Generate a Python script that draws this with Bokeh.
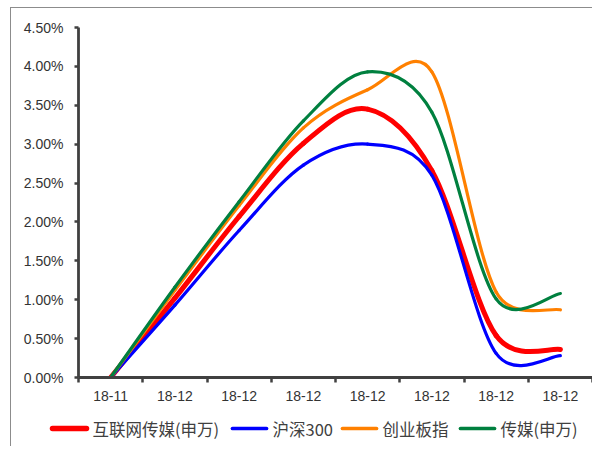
import math
from bokeh.plotting import figure
from bokeh.layouts import column, row
from bokeh.core.properties import value
from bokeh.models import (Range1d, FixedTicker, NumeralTickFormatter, ColumnDataSource)
from bokeh.embed import file_html
from bokeh.resources import INLINE

# ---- data ----
x_labels = ["18-11", "18-12", "18-12", "18-12", "18-12", "18-12", "18-12", "18-12"]
internet_media = [0.0, 0.0102, 0.0207, 0.0301, 0.0345, 0.0266, 0.0054, 0.0036]
hs300 = [0.0, 0.0093, 0.0189, 0.0273, 0.0300, 0.0260, 0.0031, 0.0028]
chinext = [0.0, 0.0112, 0.0221, 0.0321, 0.0370, 0.0393, 0.0110, 0.0087]
media = [0.0, 0.0116, 0.0226, 0.0330, 0.0393, 0.0341, 0.0101, 0.0108]
y_ticks = [0.0, 0.005, 0.01, 0.015, 0.02, 0.025, 0.03, 0.035, 0.04, 0.045]

series = [
    ("互联网传媒(申万)", internet_media, "#FF0000", 5),
    ("沪深300", hs300, "#0000FF", 3.2),
    ("创业板指", chinext, "#FF8000", 3.2),
    ("传媒(申万)", media, "#00803F", 3.2),
]

AX = "#404040"
W, H = 592, 410
LEFT, RIGHT, TOP, BOTTOM = 78, 0, 27, 33
X0, X1, Y0, Y1 = -0.5, 7.5, 0.0, 0.045

p = figure(width=W, height=H, output_backend="svg", toolbar_location=None,
           x_range=Range1d(X0, X1), y_range=Range1d(Y0, Y1),
           min_border_left=LEFT, min_border_right=RIGHT, min_border_top=TOP,
           min_border_bottom=BOTTOM)
p.outline_line_color = None
p.xgrid.visible = False
p.ygrid.visible = False
p.background_fill_color = "white"
p.border_fill_alpha = 0

# pixel scales (for Excel-like smoothing in screen space)
sx = (W - LEFT - RIGHT) / (X1 - X0)
sy = (H - TOP - BOTTOM) / (Y1 - Y0)


def dist(a, b):
    return math.hypot((a[0] - b[0]) * sx, (a[1] - b[1]) * sy)


def smooth(xs, ys):
    n = len(xs)
    P = list(zip(xs, ys))
    d = dict(x0=[], y0=[], x1=[], y1=[], cx0=[], cy0=[], cx1=[], cy1=[])
    for i in range(n - 1):
        pm = P[i - 1] if i > 0 else P[i]
        p0 = P[i]
        p1 = P[i + 1]
        p2 = P[i + 2] if i + 2 < n else P[i + 1]
        seg = dist(p0, p1)
        d02 = dist(pm, p1)
        d13 = dist(p0, p2)
        f0 = 1 / 6.0
        f1 = 1 / 6.0
        if d02 > 0 and d02 * f0 > seg / 2:
            f0 = seg / 2 / d02
        if d13 > 0 and d13 * f1 > seg / 2:
            f1 = seg / 2 / d13
        d["x0"].append(p0[0]); d["y0"].append(p0[1])
        d["x1"].append(p1[0]); d["y1"].append(p1[1])
        d["cx0"].append(p0[0] + (p1[0] - pm[0]) * f0)
        d["cy0"].append(p0[1] + (p1[1] - pm[1]) * f0)
        d["cx1"].append(p1[0] - (p2[0] - p0[0]) * f1)
        d["cy1"].append(p1[1] - (p2[1] - p0[1]) * f1)
    return ColumnDataSource(d)


xs = list(range(len(x_labels)))
for name, vals, color, w in series:
    src = smooth(xs, vals)
    p.bezier(x0="x0", y0="y0", x1="x1", y1="y1", cx0="cx0", cy0="cy0",
             cx1="cx1", cy1="cy1", source=src, line_color=color, line_width=w,
             line_cap="round")

# x axis
xa = p.xaxis[0]
xa.ticker = FixedTicker(ticks=xs, minor_ticks=[i - 0.5 for i in range(len(x_labels) + 1)])
xa.major_label_overrides = {i: lab for i, lab in enumerate(x_labels)}
xa.major_tick_out = 0
xa.major_tick_in = 0
xa.minor_tick_out = 5
xa.minor_tick_in = 0
xa.minor_tick_line_color = AX
xa.minor_tick_line_width = 2.5
xa.axis_line_color = AX
xa.axis_line_width = 2.8
xa.major_label_standoff = 8
xa.major_label_text_font = "Liberation Sans"
xa.major_label_text_font_size = "14px"
xa.major_label_text_color = "#333333"

# y axis
ya = p.yaxis[0]
ya.ticker = FixedTicker(ticks=y_ticks, minor_ticks=[])
ya.formatter = NumeralTickFormatter(format="0.00%")
ya.major_tick_out = 4
ya.major_tick_in = 0
ya.major_tick_line_color = AX
ya.major_tick_line_width = 2.5
ya.axis_line_color = AX
ya.axis_line_width = 2.8
ya.major_label_standoff = 11
ya.major_label_text_font = "Liberation Sans"
ya.major_label_text_font_size = "14px"
ya.major_label_text_color = "#333333"

# legend strip (pixel coordinates)
LH = 36
lg = figure(width=W, height=LH, output_backend="svg", toolbar_location=None,
            x_axis_type=None, y_axis_type=None, x_range=Range1d(0, W), y_range=Range1d(0, LH),
            min_border=0)
lg.outline_line_color = None
lg.grid.visible = False
lg.background_fill_alpha = 0
lg.border_fill_alpha = 0

legend_x = [52, 232, 342, 460]   # layout positions of legend swatches
legend_y = 18
swatch = 34
for (name, vals, color, w), gx in zip(series, legend_x):
    lg.segment(x0=[gx], y0=[legend_y], x1=[gx + swatch], y1=[legend_y],
               line_color=color, line_width=w + 0.5, line_cap="round")
    lg.text(x=[gx + swatch + 6], y=[legend_y], text=[name], text_baseline="middle",
            text_align="left", text_font=value("Noto Sans CJK SC"),
            text_font_size="16.5px", text_color="#404040")

layout = column(p, row(lg, spacing=0), spacing=0)
layout.styles = {
    "background": "linear-gradient(#8c8c8c,#8c8c8c) 10px 7px / 1px 100% no-repeat, "
                  "linear-gradient(#8c8c8c,#8c8c8c) 10px 7px / 100% 1px no-repeat, white"
}

open("out.html", "w").write(file_html(layout, INLINE))
